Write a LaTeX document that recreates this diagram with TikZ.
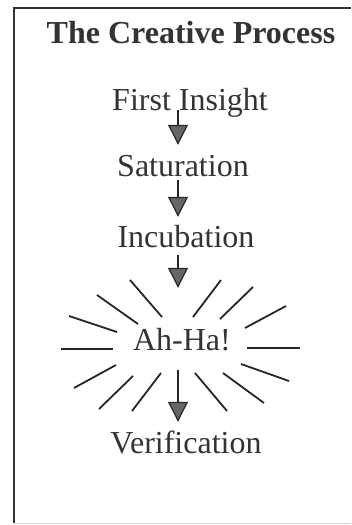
\documentclass[tikz,border=0pt]{standalone}
\usepackage{fontspec}
\setmainfont{Liberation Serif}
\usetikzlibrary{arrows.meta}
\tikzset{
  stage/.style={inner sep=0pt, text height=22pt, text depth=7pt, anchor=base,
    font=\fontsize{32}{36}\selectfont, text=black!80},
  flow/.style={draw=black!85, line width=1.2pt,
    -{Triangle[width=20pt,length=20pt,fill=black!60]}},
  ray/.style={draw=black!85, line width=1.8pt},
}
\begin{document}
\begin{tikzpicture}[x=1pt,y=-1pt]
	\useasboundingbox (0,0) rectangle (351,525);
	% frame
	\draw[black!80, line width=1.5pt] (14,523) -- (14,8) -- (351,8);
	\draw[black!15, line width=1pt] (14,523) -- (351,523);
	% title and stages
	\node[stage, font=\fontsize{32}{36}\selectfont\bfseries] (title) at (191,43) {The Creative Process};
	\node[stage] (fi) at (190,110) {First Insight};
	\node[stage] (sat) at (183,176) {Saturation};
	\node[stage] (inc) at (186,247) {Incubation};
	\node[stage] (ah) at (182,350) {Ah-Ha!};
	\node[stage] (ver) at (186,453) {Verification};
	\coordinate (axis) at (178,0);
	% arrows
	\draw[flow, shorten >=9pt] (fi.base -| axis) -- (sat.north -| axis);
	\draw[flow, shorten <=4pt, shorten >=8pt] (sat.base -| axis) -- (inc.north -| axis);
	\draw[flow, shorten <=8pt, shorten >=40pt] (inc.base -| axis) -- (ah.north -| axis);
	\draw[flow, shorten <=20pt, shorten >=9pt] (ah.base -| axis) -- (ver.north -| axis);
	% rays round Ah-Ha!
	\foreach \xa/\ya/\xb/\yb in {61/349/113/349, 247/348/300/348,
	                   69/316/117/332, 97/295/138/324, 130/280/162/317,
	                   193/317/221/280, 220/319/253/287, 245/328/286/306,
	                   74/388/116/365, 99/409/133/376, 132/411/161/373,
	                   195/373/227/411, 223/373/264/403, 241/364/289/381}
	\draw[ray] (\xa,\ya) -- (\xb,\yb);
\end{tikzpicture}
\end{document}
